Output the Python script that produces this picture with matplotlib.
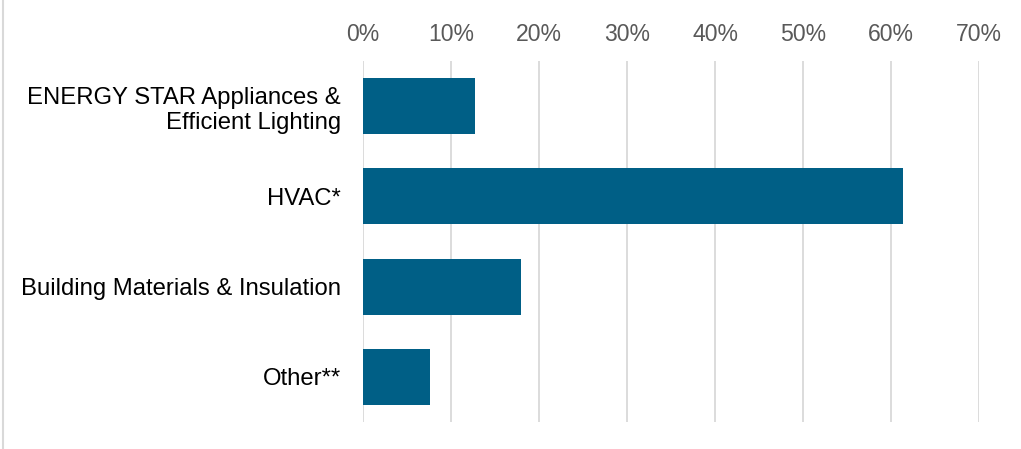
import matplotlib.pyplot as plt
from matplotlib.lines import Line2D
from matplotlib.ticker import FuncFormatter, MultipleLocator

plt.rcParams["font.family"] = ["Liberation Sans", "DejaVu Sans"]

categories = [
    "ENERGY STAR Appliances &\nEfficient Lighting",
    "HVAC*",
    "Building Materials & Insulation",
    "Other**",
]
shares = [0.127, 0.614, 0.180, 0.076]

W, H = 1021, 449
fig = plt.figure(figsize=(W / 100, H / 100), dpi=100)
ax = fig.add_axes([363 / W, 1 - 422 / H, (979 - 363) / W, (422 - 61) / H])

ax.barh(range(len(categories)), shares, height=0.62, color="#005f86", zorder=3)
ax.set_xlim(0, 0.7)
ax.set_ylim(len(categories) - 0.5, -0.5)
ax.xaxis.set_major_locator(MultipleLocator(0.1))
ax.xaxis.set_major_formatter(FuncFormatter(lambda v, _: f"{v * 100:.0f}%"))
ax.xaxis.tick_top()
ax.grid(axis="x", color="#d9d9d9", linewidth=1.3, zorder=0)
ax.set_yticks(range(len(categories)))
ax.set_yticklabels(categories, fontsize=17.2, color="#000000", linespacing=1.2)
ax.tick_params(axis="x", length=0, pad=11, labelsize=16.6, labelcolor="#595959")
ax.tick_params(axis="y", length=0, pad=16)
for s in ax.spines.values():
    s.set_visible(False)
for t in ax.get_yticklabels():
    t.set_horizontalalignment("right")

fig.add_artist(Line2D([3 / W, 3 / W], [0, 1], color="#d9d9d9", linewidth=1.5))

fig.savefig("out.png", dpi=100)
